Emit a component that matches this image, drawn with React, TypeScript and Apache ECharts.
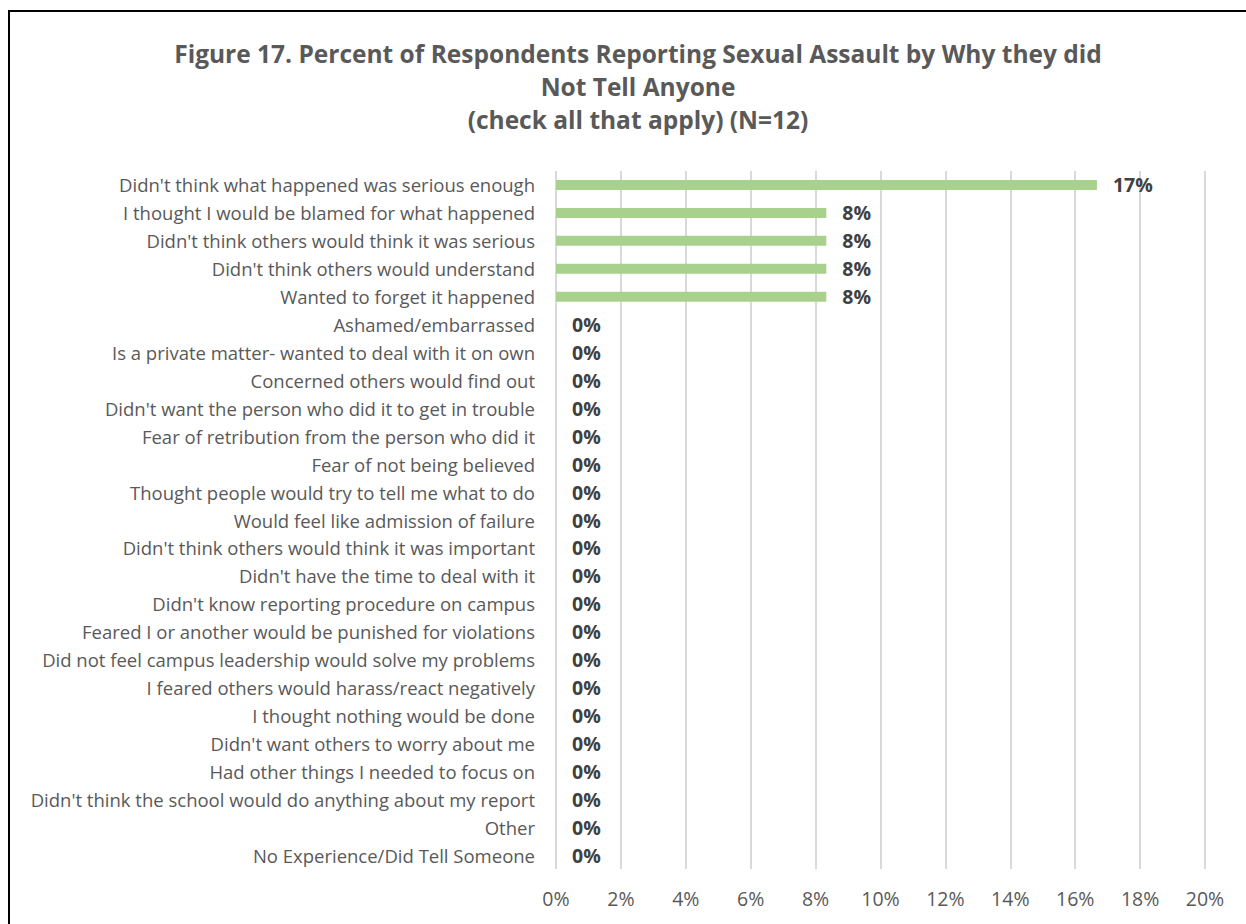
import React, { useEffect, useRef } from "react";
import * as echarts from "echarts";

const categories: string[] = [
  "Didn't think what happened was serious enough",
  "I thought I would be blamed for what happened",
  "Didn't think others would think it was serious",
  "Didn't think others would understand",
  "Wanted to forget it happened",
  "Ashamed/embarrassed",
  "Is a private matter- wanted to deal with it on own",
  "Concerned others would find out",
  "Didn't want the person who did it to get in trouble",
  "Fear of retribution from the person who did it",
  "Fear of not being believed",
  "Thought people would try to tell me what to do",
  "Would feel like admission of failure",
  "Didn't think others would think it was important",
  "Didn't have the time to deal with it",
  "Didn't know reporting procedure on campus",
  "Feared I or another would be punished for violations",
  "Did not feel campus leadership would solve my problems",
  "I feared others would harass/react negatively",
  "I thought nothing would be done",
  "Didn't want others to worry about me",
  "Had other things I needed to focus on",
  "Didn't think the school would do anything about my report",
  "Other",
  "No Experience/Did Tell Someone",
];

const values: number[] = [
  16.67, 8.33, 8.33, 8.33, 8.33, 0, 0, 0, 0, 0, 0, 0, 0, 0, 0, 0, 0, 0, 0, 0, 0, 0, 0, 0, 0,
];

const titleText = "Figure 17. Percent of Respondents Reporting Sexual Assault by Why they did\nNot Tell Anyone\n(check all that apply) (N=12)";

export default function App() {
  const ref = useRef<HTMLDivElement>(null);
  useEffect(() => {
    if (!ref.current) return;
    const chart = echarts.init(ref.current, undefined, { renderer: "svg" });
    chart.setOption({
      animation: false,
      backgroundColor: "#ffffff",
      title: {
        text: titleText,
        left: 633,
        top: 32,
        textAlign: "center",
        textStyle: {
          fontFamily: "Open Sans",
          fontWeight: "bold",
          fontSize: 24.5,
          lineHeight: 33,
          color: "#595959",
          align: "center",
        },
      },
      graphic: [
        { type: "line", shape: { x1: 9, y1: 11, x2: 9, y2: 924 }, style: { stroke: "#000", lineWidth: 2 } },
        { type: "line", shape: { x1: 8, y1: 11, x2: 1246, y2: 11 }, style: { stroke: "#000", lineWidth: 2 } },
      ],
      grid: { left: 556, right: 41, top: 171, bottom: 55, containLabel: false },
      xAxis: {
        type: "value",
        min: 0,
        max: 20,
        interval: 2,
        axisLine: { show: false },
        axisTick: { show: false },
        splitLine: { show: true, lineStyle: { color: "#d9d9d9", width: 2 } },
        axisLabel: {
          formatter: (v: number) => `${v}%`,
          fontFamily: "Open Sans",
          fontSize: 19.5,
          color: "#595959",
          margin: 19,
        },
      },
      yAxis: {
        type: "category",
        data: categories,
        inverse: true,
        axisLine: { show: false },
        axisTick: { show: false },
        axisLabel: {
          fontFamily: "Open Sans",
          fontSize: 18.5,
          color: "#595959",
          margin: 21,
        },
      },
      series: [
        {
          type: "bar",
          data: values,
          barWidth: 10,
          itemStyle: { color: "#a9d18e" },
          label: {
            show: true,
            position: "right",
            distance: 16,
            formatter: (p: any) => `${Math.round(p.value)}%`,
            fontFamily: "Open Sans",
            fontWeight: "bold",
            fontSize: 19.5,
            color: "#404040",
          },
        },
      ],
    });
    return () => chart.dispose();
  }, []);
  return (
    <div
      ref={ref}
      style={{ position: "absolute", left: 0, top: 0, width: 1246, height: 924 }}
    />
  );
}
